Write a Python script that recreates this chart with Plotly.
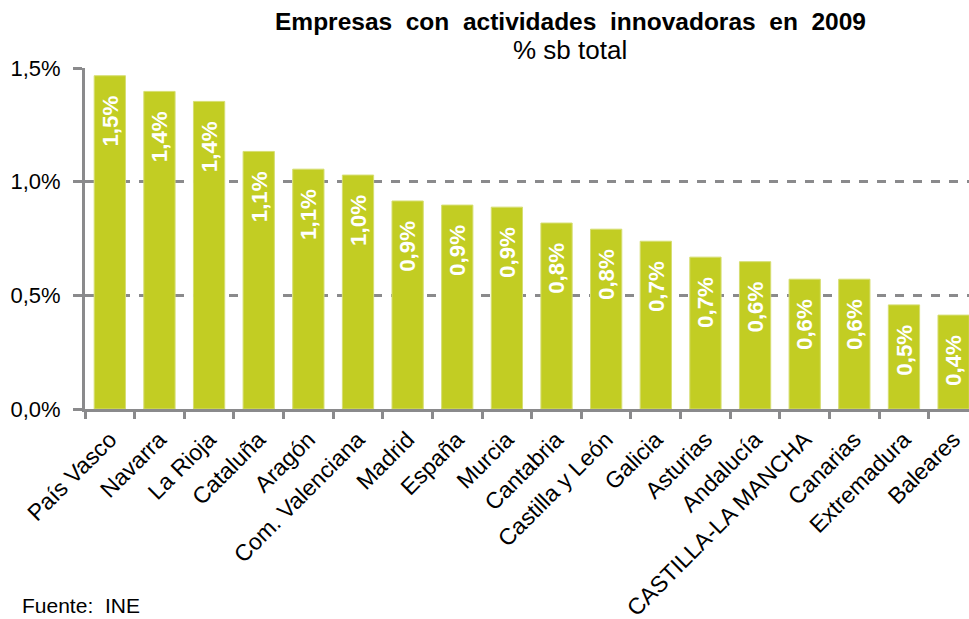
import plotly.graph_objects as go

regiones = ["País Vasco", "Navarra", "La Rioja", "Cataluña", "Aragón", "Com. Valenciana",
            "Madrid", "España", "Murcia", "Cantabria", "Castilla y León", "Galicia",
            "Asturias", "Andalucía", "CASTILLA-LA MANCHA", "Canarias", "Extremadura", "Baleares"]
valores = [1.466, 1.397, 1.353, 1.133, 1.055, 1.029, 0.915, 0.897, 0.888, 0.818, 0.791,
           0.738, 0.668, 0.648, 0.571, 0.571, 0.458, 0.413]
etiquetas = ["1,5%", "1,4%", "1,4%", "1,1%", "1,1%", "1,0%", "0,9%", "0,9%", "0,9%", "0,8%",
             "0,8%", "0,7%", "0,7%", "0,6%", "0,6%", "0,6%", "0,5%", "0,4%"]
y_ticks = [0, 0.5, 1.0, 1.5]
y_ticktext = ["0,0%", "0,5%", "1,0%", "1,5%"]

VERDE = "#C2CD23"
GRIS = "#8a8a8c"
FONT = "Liberation Sans, Arial, sans-serif"

fig = go.Figure(go.Bar(
    x=regiones, y=valores,
    text=[e + "\u00a0\u00a0\u2009" for e in etiquetas],
    textposition="inside", insidetextanchor="end", textangle=-90,
    textfont=dict(family=FONT, size=23, color="white", weight="bold"),
    marker=dict(color=VERDE, line=dict(color="#d6de72", width=1)),
    width=0.63, cliponaxis=True,
))

fig.update_layout(
    width=969, height=619,
    margin=dict(l=85, r=0, t=68, b=210, autoexpand=False),
    plot_bgcolor="white", paper_bgcolor="white",
    showlegend=False,
    font=dict(family=FONT, color="black"),
    annotations=[
        dict(text="<b>Empresas\u00a0 con\u00a0 actividades\u00a0 innovadoras\u00a0 en\u00a0 2009</b>",
             xref="paper", yref="paper", x=(570 - 85) / 884, y=1, yshift=47,
             showarrow=False, font=dict(size=24.5), xanchor="center", yanchor="middle"),
        dict(text="% sb total", xref="paper", yref="paper", x=(570 - 85) / 884, y=1, yshift=18,
             showarrow=False, font=dict(size=26), xanchor="center", yanchor="middle"),
        dict(text="Fuente:  INE", xref="paper", yref="paper", x=(20 - 85) / 884, y=0, yshift=-196,
             showarrow=False, font=dict(size=21), xanchor="left", yanchor="middle"),
    ],
)

fig.update_xaxes(
    range=[-0.5, 17.31], showline=True, linecolor=GRIS, linewidth=3,
    ticks="outside", tickson="boundaries", ticklen=7, tickwidth=3, tickcolor=GRIS,
    tickangle=-45, tickfont=dict(size=23, color="black"), ticklabelstandoff=5,
    showgrid=False, automargin=False,
)
fig.update_yaxes(
    range=[0, 1.5], tickvals=y_ticks, ticktext=y_ticktext,
    showline=True, linecolor=GRIS, linewidth=3,
    ticks="outside", ticklen=9, tickwidth=3, tickcolor=GRIS,
    tickfont=dict(size=22, color="black"), ticklabelstandoff=8,
    showgrid=True, gridcolor=GRIS, gridwidth=3, griddash="dash",
    zeroline=False, automargin=False,
)

# the page's default 8px body margin would shift the chart
fig.write_html("out.html", config={"displayModeBar": False},
               post_script="document.body.style.margin='0';")
